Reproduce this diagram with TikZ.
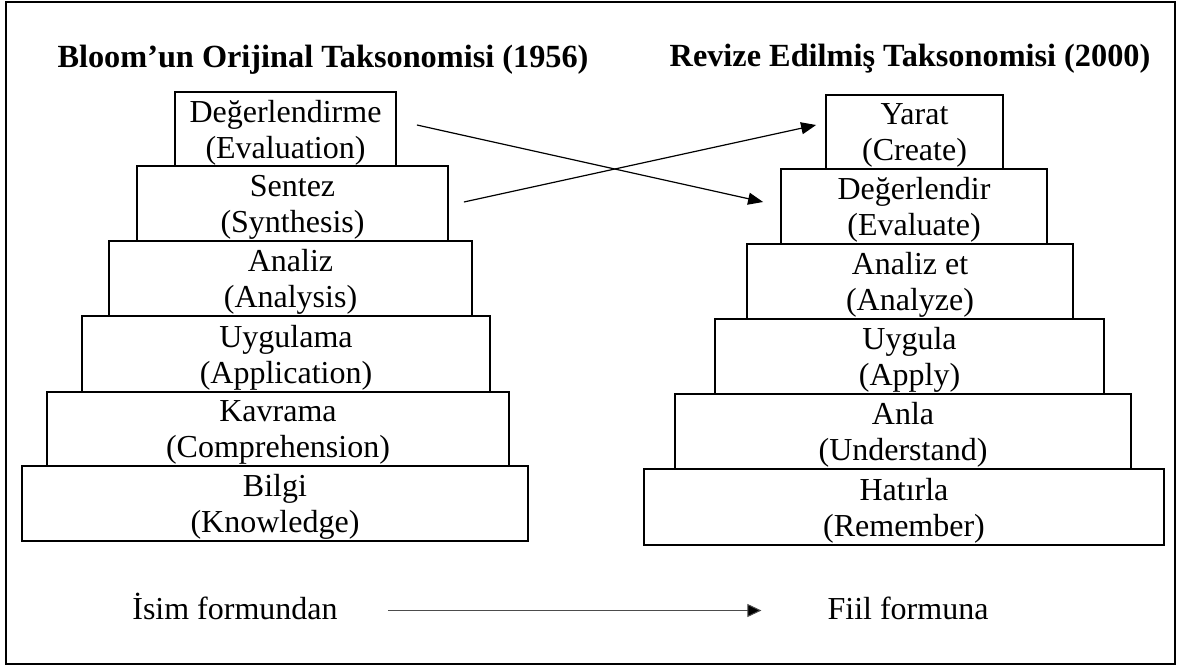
\documentclass[tikz,border=0pt]{standalone}
\usepackage{fontspec}
\setmainfont{Liberation Serif}
\usetikzlibrary{arrows.meta}
\begin{document}
\begin{tikzpicture}[x=1pt,y=-1pt,
  box/.style={draw=black, line width=1.8pt, rectangle, inner sep=0pt, align=center,
    font=\fontsize{32}{36}\selectfont, text depth=0pt},
  ttl/.style={font=\fontsize{32.3}{36}\selectfont\bfseries, inner sep=0pt, anchor=base},
  lbl/.style={font=\fontsize{32}{36}\selectfont, inner sep=0pt, text height=22pt, text depth=5pt},
  arr/.style={line width=1.2pt, -{Triangle[length=15pt,width=12pt]}},
  barr/.style={line width=1pt, draw=black!70, -{Triangle[length=14pt,width=13pt,fill=black]}}
]
\useasboundingbox (0,0) rectangle (1178,666);
\draw[line width=2pt] (6,2) rectangle (1175,664);

\node[ttl] (tl) at (323,68) {Bloom’un Orijinal Taksonomisi (1956)};
\node[ttl] (tr) at (910,67) {Revize Edilmiş Taksonomisi (2000)};

\node[box, minimum width=221pt, minimum height=74pt] (L1) at (285.5,129) {Değerlendirme\\(Evaluation)};
\node[box, minimum width=311pt, minimum height=75pt] (L2) at (292.5,203.5) {Sentez\\(Synthesis)};
\node[box, minimum width=363pt, minimum height=75pt] (L3) at (290.5,278.5) {Analiz\\(Analysis)};
\node[box, minimum width=408pt, minimum height=76pt] (L4) at (286,354) {Uygulama\\(Application)};
\node[box, minimum width=462pt, minimum height=74pt] (L5) at (278,429) {Kavrama\\(Comprehension)};
\node[box, minimum width=506pt, minimum height=75pt] (L6) at (275,503.5) {Bilgi\\(Knowledge)};

\node[box, minimum width=177pt, minimum height=74pt] (R1) at (914.5,132) {Yarat\\(Create)};
\node[box, minimum width=266pt, minimum height=75pt] (R2) at (914,206.5) {Değerlendir\\(Evaluate)};
\node[box, minimum width=326pt, minimum height=75pt] (R3) at (910,281.5) {Analiz et\\(Analyze)};
\node[box, minimum width=389pt, minimum height=75pt] (R4) at (909.5,356.5) {Uygula\\(Apply)};
\node[box, minimum width=456pt, minimum height=75pt] (R5) at (903,431.5) {Anla\\(Understand)};
\node[box, minimum width=520pt, minimum height=76pt] (R6) at (904,507) {Hatırla\\(Remember)};

\coordinate (a1s) at ([xshift=20pt,yshift=4pt]L1.east);
\coordinate (a1e) at ([xshift=-17pt,yshift=4.5pt]R2.west);
\coordinate (a2s) at ([xshift=15pt,yshift=1.5pt]L2.east);
\coordinate (a2e) at ([xshift=-9pt,yshift=7pt]R1.west);
\draw[arr] (a1s) -- (a1e);
\draw[arr] (a2s) -- (a2e);

\node[lbl, anchor=base] (isim) at (235,619) {İsim formundan};
\node[lbl, anchor=base] (fiil) at (908,619) {Fiil formuna};
\draw[barr, shorten <=50pt, shorten >=66pt] (isim.east) -- (fiil.west);
\end{tikzpicture}
\end{document}
